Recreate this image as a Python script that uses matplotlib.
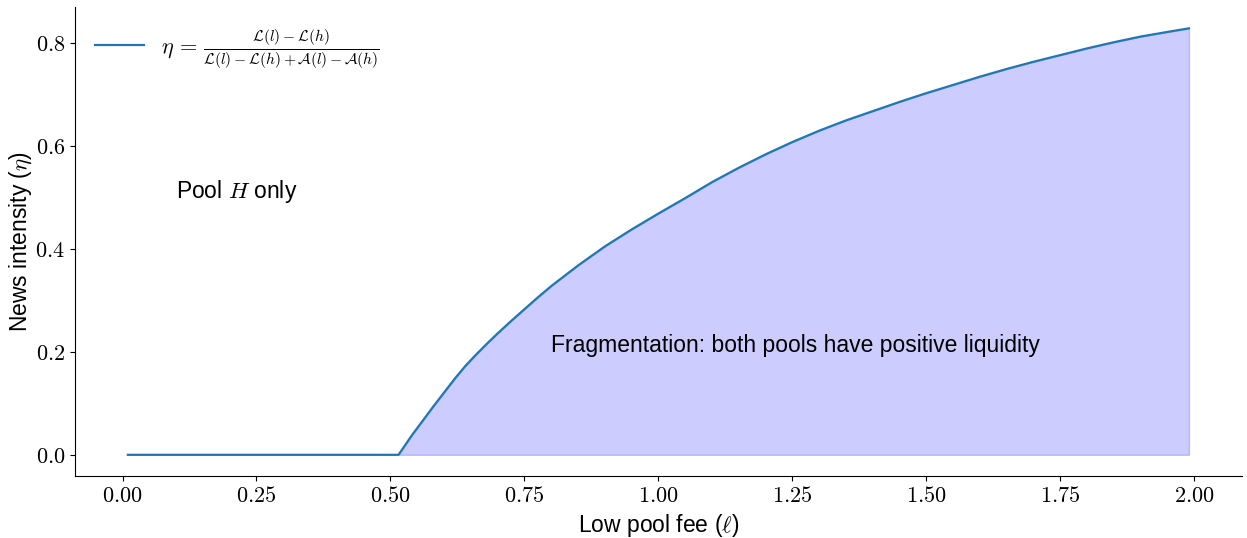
import matplotlib
matplotlib.use("Agg")
import matplotlib.pyplot as plt
from matplotlib.ticker import FuncFormatter

# Low pool fee grid and equilibrium news intensity threshold
fee = [0.01, 0.515, 0.54, 0.56, 0.58, 0.60, 0.62, 0.64, 0.66, 0.68, 0.70,
       0.725, 0.75, 0.775, 0.80, 0.85, 0.90, 0.95, 1.00, 1.05, 1.10, 1.15,
       1.20, 1.25, 1.30, 1.35, 1.40, 1.45, 1.50, 1.55, 1.60, 1.65, 1.70,
       1.75, 1.80, 1.85, 1.90, 1.95, 1.99]
eta = [0.0, 0.0, 0.038, 0.066, 0.094, 0.121, 0.148, 0.173, 0.195, 0.216,
       0.236, 0.260, 0.283, 0.306, 0.328, 0.368, 0.405, 0.438, 0.469, 0.499,
       0.530, 0.558, 0.584, 0.608, 0.630, 0.650, 0.668, 0.686, 0.703, 0.719,
       0.735, 0.750, 0.764, 0.777, 0.790, 0.802, 0.813, 0.822, 0.829]

x_ticks = [0.0, 0.25, 0.5, 0.75, 1.0, 1.25, 1.5, 1.75, 2.0]
y_ticks = [0.0, 0.2, 0.4, 0.6, 0.8]

plt.rcParams["font.family"] = ["Liberation Sans", "DejaVu Sans"]
plt.rcParams["mathtext.fontset"] = "cm"

fig, ax = plt.subplots(figsize=(12.47, 5.38), dpi=100)
fig.subplots_adjust(left=0.060, right=0.996, top=0.987, bottom=0.115)

label = (r"$\eta\, =\, \frac{\mathcal{L}(l) - \mathcal{L}(h)}"
         r"{\mathcal{L}(l) - \mathcal{L}(h) + \mathcal{A}(l) - \mathcal{A}(h)}$")
ax.plot(fee, eta, color="tab:blue", linewidth=1.6, label=label)
ax.fill_between(fee, eta, color="blue", alpha=0.2)

ax.text(0.1, 0.5, r"Pool $H$ only", fontsize=16.5)
ax.text(0.8, 0.2, "Fragmentation: both pools have positive liquidity",
        fontsize=16.5)

ax.set_xticks(x_ticks)
ax.set_yticks(y_ticks)
ax.xaxis.set_major_formatter(FuncFormatter(lambda v, _: f"${v:.2f}$"))
ax.yaxis.set_major_formatter(FuncFormatter(lambda v, _: f"${v:.1f}$"))
ax.tick_params(labelsize=16)

ax.set_xlabel(r"Low pool fee ($\ell$)", fontsize=16.5)
ax.set_ylabel(r"News intensity ($\eta$)", fontsize=16.5, labelpad=1)

for side in ("top", "right"):
    ax.spines[side].set_visible(False)

ax.legend(loc="upper left", frameon=False, fontsize=16, handlelength=2.2)

fig.savefig("out.png", dpi=100)
